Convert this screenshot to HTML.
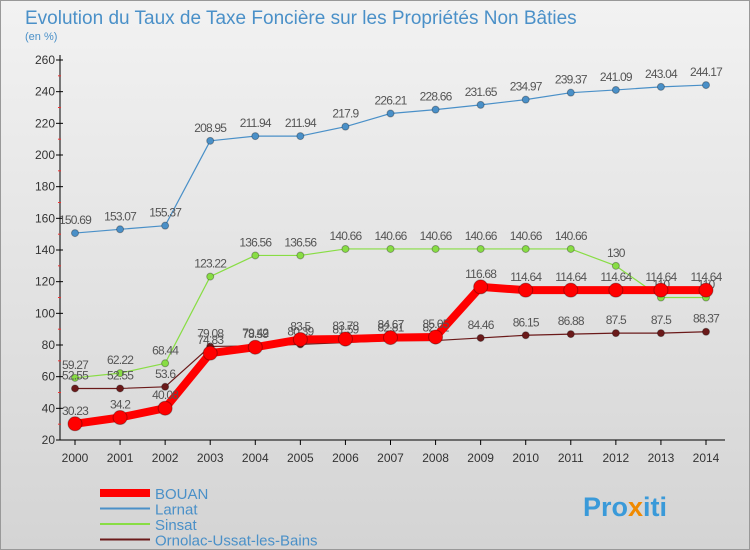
<!DOCTYPE html>
<html><head><meta charset="utf-8"><style>
body{margin:0;width:750px;height:550px;overflow:hidden;font-family:"Liberation Sans",sans-serif}
svg{display:block}
</style></head><body>
<svg id="c" width="750" height="550" xmlns="http://www.w3.org/2000/svg">
<defs><linearGradient id="bg" x1="0" y1="0" x2="0" y2="1"><stop offset="0" stop-color="#f2f2f2"/><stop offset="1" stop-color="#d4d4d4"/></linearGradient></defs>
<rect x="0.5" y="0.5" width="749" height="549" fill="url(#bg)" stroke="#999"/>
<text x="25" y="24" font-size="19" fill="#4a90c8" font-weight="normal">Evolution du Taux de Taxe Foncière sur les Propriétés Non Bâties</text>
<text x="25" y="40" font-size="11" fill="#4a90c8">(en %)</text>
<g id="axes"></g><g id="series"></g><g id="legend"></g>
<text x="583" y="516" font-size="27" font-weight="bold" fill="#3a9ad9">Pro<tspan fill="#f08a00">x</tspan>iti</text>
</svg>
<script>
const years=[2000,2001,2002,2003,2004,2005,2006,2007,2008,2009,2010,2011,2012,2013,2014];
const yTicks=[20,40,60,80,100,120,140,160,180,200,220,240,260];
const bouan=[30.23,34.2,40.08,74.83,78.59,83.5,83.78,84.67,85.05,116.68,114.64,114.64,114.64,114.64,114.64];
const larnat=[150.69,153.07,155.37,208.95,211.94,211.94,217.9,226.21,228.66,231.65,234.97,239.37,241.09,243.04,244.17];
const sinsat=[59.27,62.22,68.44,123.22,136.56,136.56,140.66,140.66,140.66,140.66,140.66,140.66,130,110,110];
const ornolac=[52.55,52.55,53.6,79.08,79.42,80.39,81.59,82.81,82.81,84.46,86.15,86.88,87.5,87.5,88.37];
const NS="http://www.w3.org/2000/svg";
const X=i=>75+i*(706-75)/(years.length-1);
const Y=v=>440-(v-20)*(380/240);
function mk(p,t,a){const e=document.createElementNS(NS,t);for(const k in a)e.setAttribute(k,a[k]);p.appendChild(e);return e;}
const ax=document.getElementById('axes');
const ya=mk(ax,'line',{x1:60,y1:55,x2:60,y2:440,stroke:'#000'});


const xa=mk(ax,'line',{x1:60,y1:440,x2:725,y2:440,stroke:'#000'});


yTicks.forEach(v=>{
 mk(ax,'line',{x1:56,y1:Y(v),x2:63,y2:Y(v),stroke:'#000'});
 if(v!==260)mk(ax,'line',{x1:58,y1:Y(v+10),x2:61,y2:Y(v+10),stroke:'#e33'});
 const t=mk(ax,'text',{x:55,y:Y(v)+4,'font-size':12,'text-anchor':'end',fill:'#333'});t.textContent=v;
 
 
});
years.forEach((y,i)=>{
 mk(ax,'line',{x1:X(i),y1:440,x2:X(i),y2:445,stroke:'#000'});
 const t=mk(ax,'text',{x:X(i),y:462,'font-size':12,'text-anchor':'middle',fill:'#333'});t.textContent=y;
 
 
});
const sg=document.getElementById('series');
function series(name,data,color,w,r){
 const g=mk(sg,'g',{});
 
 
 mk(g,'polyline',{points:data.map((v,i)=>X(i)+','+Y(v)).join(' '),fill:'none',stroke:color,'stroke-width':w,'stroke-linejoin':'round'});
 data.forEach((v,i)=>{
  const c=mk(g,'circle',{cx:X(i),cy:Y(v),r:r,fill:color,stroke:'rgba(0,0,0,0.3)'});
  
  
  const t=mk(g,'text',{x:X(i),y:Y(v)-9,'font-size':12,'text-anchor':'middle',fill:'#555','letter-spacing':'-0.8'});
  t.textContent=v;
  
  
 });
}
series('larnat',larnat,'#4a90c8',1.2,3.5);
series('sinsat',sinsat,'#88dd44',1.2,3.5);
series('ornolac',ornolac,'#6b1a1a',1.2,3.5);
series('bouan',bouan,'#ff0000',8,7);
const lg=document.getElementById('legend');
[['BOUAN','#ff0000',8],['Larnat','#4a90c8',2],['Sinsat','#88dd44',2],['Ornolac-Ussat-les-Bains','#6b1a1a',2]].forEach((d,i)=>{
 const y=493+i*15.5;
 const g=mk(lg,'g',{});
 
 
 mk(g,'line',{x1:100,y1:y,x2:150,y2:y,stroke:d[1],'stroke-width':d[2]});
 const t=mk(g,'text',{x:155,y:y+6,'font-size':15,fill:'#4a90c8'});t.textContent=d[0];
});
</script>
</body></html>
